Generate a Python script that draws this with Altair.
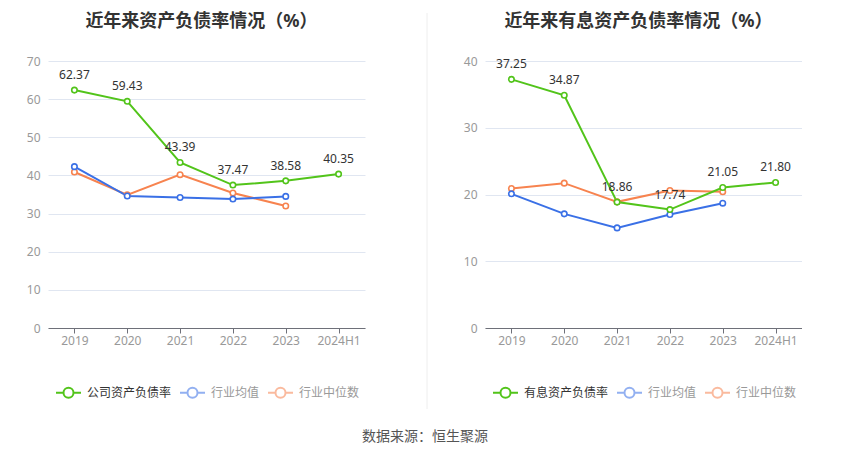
import altair as alt
import pandas as pd

FONT = "Noto Sans, Noto Sans CJK SC, sans-serif"

years = ["2019", "2020", "2021", "2022", "2023", "2024H1"]

left_title = "近年来资产负债率情况（%）"
left_names = ["公司资产负债率", "行业均值", "行业中位数"]
left_company = [62.37, 59.43, 43.39, 37.47, 38.58, 40.35]
left_avg = [42.3, 34.6, 34.2, 33.8, 34.5, None]
left_median = [40.9, 34.9, 40.2, 35.4, 32.0, None]

right_title = "近年来有息资产负债率情况（%）"
right_names = ["有息资产负债率", "行业均值", "行业中位数"]
right_company = [37.25, 34.87, 18.86, 17.74, 21.05, 21.80]
right_avg = [20.1, 17.1, 15.0, 17.0, 18.7, None]
right_median = [20.9, 21.7, 18.9, 20.6, 20.4, None]

source_text = "数据来源：恒生聚源"

colors = ["#52c41a", "#3a70e6", "#f7834f"]

SYMBOL = ("M-1,0L-0.4,0M0.4,0L1,0M-0.4,0A0.4,0.4,0,1,1,0.4,0"
          "A0.4,0.4,0,1,1,-0.4,0Z")

W, H = 317, 267


def panel(title, names, series, ymax, extra=None):
    rows = []
    # industry series first, company last (drawn on top)
    order = [2, 1, 0]
    for i in order:
        for yr, v in zip(years, series[i]):
            if v is not None:
                rows.append({"year": yr, "series": names[i], "value": v})
    df = pd.DataFrame(rows)

    first = names[0]
    legend = alt.Legend(
        title=None, orient="none", legendX=7, legendY=318,
        direction="horizontal", symbolType=SYMBOL, symbolSize=625,
        symbolStrokeWidth=2, symbolFillColor="white",
        labelFontSize=12, labelFont=FONT, labelOffset=5,
        columnPadding=4, padding=0,
        labelColor=alt.ExprRef(f"datum.value === '{first}' ? '#333333' : '#999999'"),
        symbolOpacity=alt.ExprRef(f"datum.value === '{first}' ? 1 : 0.55"),
    )
    x = alt.X("year:N", sort=years,
              scale=alt.Scale(domain=years, type="point", padding=0.5),
              axis=alt.Axis(title=None, labelAngle=0, labelColor="#999999",
                            labelFontSize=12, labelFont=FONT,
                            domainColor="#6E7079", tickColor="#6E7079",
                            tickSize=5, labelPadding=2, grid=False))
    y = alt.Y("value:Q", scale=alt.Scale(domain=[0, ymax], nice=False),
              axis=alt.Axis(title=None, values=list(range(0, ymax + 1, 10)),
                            labelColor="#999999", labelFontSize=12,
                            labelFont=FONT, domain=False, ticks=False,
                            gridColor="#E0E6F1", labelPadding=8))
    base = alt.Chart(df).encode(x=x, y=y)
    lines = base.mark_line(strokeWidth=2).encode(
        color=alt.Color("series:N", scale=alt.Scale(domain=names, range=colors),
                        legend=legend),
        detail="series:N")
    points = base.mark_point(filled=True, fill="white", size=30,
                             strokeWidth=1.6, opacity=1).encode(
        stroke=alt.Stroke("series:N", scale=alt.Scale(domain=names, range=colors),
                          legend=None))
    labels = base.transform_filter(alt.datum.series == first).mark_text(
        dy=-15, fontSize=12, font=FONT, color="#333333").encode(
        text=alt.Text("value:Q", format=".2f"))
    head = alt.Chart(pd.DataFrame({"t": [title]})).mark_text(
        fontSize=18, fontWeight="bold", font=FONT, color="#333333",
        align="center", baseline="middle").encode(
        x=alt.value(W / 2 - 5), y=alt.value(-39), text="t:N")
    layers = [head, lines, points, labels]
    if extra is not None:
        layers = extra + layers
    return alt.layer(*layers).properties(width=W, height=H)


sep = alt.Chart(pd.DataFrame({"a": [0]})).mark_rule(
    color="#eeeeee", strokeWidth=1).encode(
    x=alt.value(-58), y=alt.value(-48), y2=alt.value(348))

src = alt.Chart(pd.DataFrame({"t": [source_text]})).mark_text(
    fontSize=14, font=FONT, color="#555555").encode(
    x=alt.value(377), y=alt.value(376), text="t:N")

left = panel(left_title, left_names, [left_company, left_avg, left_median], 70,
             extra=[src])
right = panel(right_title, right_names, [right_company, right_avg, right_median], 40,
              extra=[sep])

chart = alt.hconcat(left, right, spacing=120, bounds="flush").resolve_scale(
    color="independent", stroke="independent").resolve_legend(
    color="independent").properties(
    padding={"left": 18, "top": 4, "right": 0, "bottom": 0}
).configure_view(stroke=None)

chart.save("out.html", embed_options={"renderer": "svg", "actions": False})
